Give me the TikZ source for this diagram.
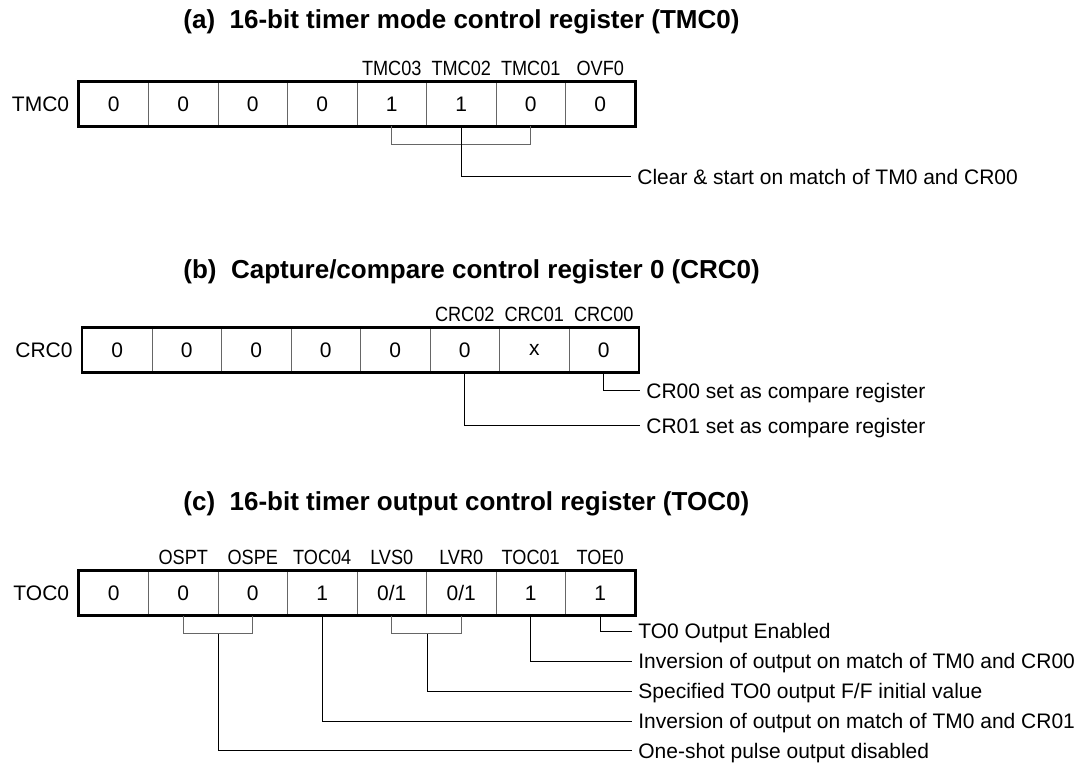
\documentclass[tikz,border=0pt]{standalone}
\usepackage{fontspec}
\setmainfont{Liberation Sans}
\newfontfamily\narrowsans[FakeStretch=0.88]{Liberation Sans}
\usetikzlibrary{positioning}

\begin{document}
\begin{tikzpicture}[x=0.5pt,y=-0.5pt,
    font=\fontsize{10.5}{12.6}\selectfont,
    cell/.style={draw=black!60,line width=0.5pt,minimum width=34.75pt,minimum height=22pt,inner sep=0pt},
    regbox/.style={line width=1.2pt},
    brace/.style={draw=black!60,line width=0.5pt},
    leader/.style={line width=0.5pt},
    bitname/.style={inner sep=0pt,font=\narrowsans\fontsize{10.3}{12}\selectfont},
    regname/.style={inner sep=0pt},
    note/.style={anchor=west,inner sep=3pt,text height=7.5pt,text depth=0pt},
    heading/.style={anchor=base west,inner sep=0pt,font=\fontsize{13}{15.6}\selectfont\bfseries}]
  \useasboundingbox (0,0) rectangle (1087,764);

  % (a) timer mode control register
  \node[heading] (ha) at (183,29) {(a)\ \ 16-bit timer mode control register (TMC0)};
  \foreach \v [count=\i] in {0,0,0,0,1,1,0,0}
    \node[cell] (a\i) at ({79+(\i-0.5)*69.5},104) {\v};
  \draw[regbox] (a1.north west) rectangle (a8.south east);
  \node[regname,left=4.5pt of a1] (ra) {TMC0};
  \foreach \n/\i in {TMC03/5,TMC02/6,TMC01/7,OVF0/8}
    \node[bitname,above=2.75pt of a\i] (an\i) {\n};
  \node[note] (na1) at (631,176.7) {Clear \& start on match of TM0 and CR00};
  \draw[brace] (a5.south) -- ++(0,-9pt) -| (a7.south);
  \draw[leader] (a6.south) |- (na1.west);

  % (b) capture/compare control register
  \node[heading] (hb) at (183,279) {(b)\ \ Capture/compare control register 0 (CRC0)};
  \foreach \v [count=\i] in {0,0,0,0,0,0,x,0}
    \node[cell] (b\i) at ({82.5+(\i-0.5)*69.5},350) {\v};
  \draw[regbox] (b1.north west) rectangle (b8.south east);
  \node[regname,left=4.5pt of b1] (rb) {CRC0};
  \foreach \n/\i in {CRC02/6,CRC01/7,CRC00/8}
    \node[bitname,above=2.75pt of b\i] (bn\i) {\n};
  \node[note] (nb1) at (640,391) {CR00 set as compare register};
  \node[note] (nb2) at (640,426) {CR01 set as compare register};
  \draw[leader] (b8.south) |- (nb1.west);
  \draw[leader] (b6.south) |- (nb2.west);

  % (c) timer output control register
  \node[heading] (hc) at (183,510) {(c)\ \ 16-bit timer output control register (TOC0)};
  \foreach \v [count=\i] in {0,0,0,1,0/1,0/1,1,1}
    \node[cell] (c\i) at ({79+(\i-0.5)*69.5},593) {\v};
  \draw[regbox] (c1.north west) rectangle (c8.south east);
  \node[regname,left=4.5pt of c1] (rc) {TOC0};
  \foreach \n/\i in {OSPT/2,OSPE/3,TOC04/4,LVS0/5,LVR0/6,TOC01/7,TOE0/8}
    \node[bitname,above=2.75pt of c\i] (cn\i) {\n};
  \node[note] (nc1) at (632,631) {TO0 Output Enabled};
  \node[note] (nc2) at (632,661) {Inversion of output on match of TM0 and CR00};
  \node[note] (nc3) at (632,691) {Specified TO0 output F/F initial value};
  \node[note] (nc4) at (632,721) {Inversion of output on match of TM0 and CR01};
  \node[note] (nc5) at (632,750.5) {One-shot pulse output disabled};
  \draw[brace] (c2.south) -- ++(0,-9pt) -| (c3.south);
  \draw[brace] (c5.south) -- ++(0,-9pt) -| (c6.south);
  \draw[leader] (c8.south) |- (nc1.west);
  \draw[leader] (c7.south) |- (nc2.west);
  \draw[leader] ([yshift=-9pt]c5.south east) |- (nc3.west);
  \draw[leader] (c4.south) |- (nc4.west);
  \draw[leader] ([yshift=-9pt]c2.south east) |- (nc5.west);
\end{tikzpicture}
\end{document}
